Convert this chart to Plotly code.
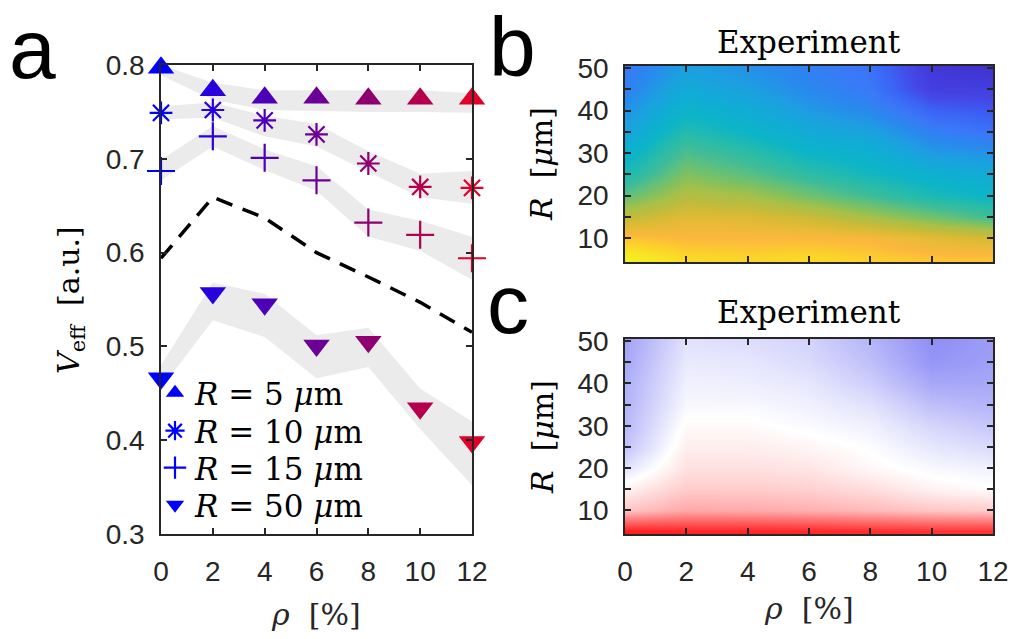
import plotly.graph_objects as go

W, H = 1017, 639

# ---------------- data ----------------
rho = [0, 2, 4, 6, 8, 10, 12]
names = ["<i>R</i> = 5 <i>μ</i>m", "<i>R</i> = 10 <i>μ</i>m",
         "<i>R</i> = 15 <i>μ</i>m", "<i>R</i> = 50 <i>μ</i>m"]

v_r5 = [0.797, 0.773, 0.765, 0.765, 0.764, 0.764, 0.764]
v_r10 = [0.749, 0.752, 0.741, 0.726, 0.695, 0.670, 0.669]
v_r15 = [0.687, 0.724, 0.701, 0.677, 0.632, 0.619, 0.594]
v_r50 = [0.466, 0.557, 0.545, 0.501, 0.505, 0.434, 0.398]

r5_hi = [0.800, 0.781, 0.773, 0.773, 0.773, 0.773, 0.770]
r5_lo = [0.789, 0.763, 0.752, 0.751, 0.750, 0.750, 0.749]
r10_hi = [0.756, 0.760, 0.746, 0.737, 0.708, 0.684, 0.687]
r10_lo = [0.742, 0.744, 0.724, 0.713, 0.686, 0.659, 0.652]
r15_hi = [0.699, 0.735, 0.710, 0.692, 0.646, 0.634, 0.617]
r15_lo = [0.677, 0.713, 0.688, 0.666, 0.617, 0.602, 0.571]
r50_hi = [0.480, 0.568, 0.556, 0.512, 0.520, 0.455, 0.420]
r50_lo = [0.455, 0.528, 0.510, 0.466, 0.478, 0.412, 0.352]

v_dashed = [0.594, 0.659, 0.637, 0.600, 0.574, 0.547, 0.515]

point_colors = ["rgb(0,0,255)", "rgb(40,0,222)", "rgb(78,0,184)", "rgb(108,0,150)",
                "rgb(142,0,112)", "rgb(180,0,76)", "rgb(224,0,40)"]

# heatmap grids (rows: R from 5 to 50, columns: rho)
R_grid = [5, 10, 15, 20, 25, 30, 35, 40, 45, 50]
z_b = [
    [1.00, 0.94, 0.93, 0.94, 0.92, 0.90, 0.90],
    [0.90, 0.88, 0.88, 0.88, 0.87, 0.82, 0.78],
    [0.74, 0.81, 0.80, 0.76, 0.68, 0.60, 0.52],
    [0.57, 0.71, 0.68, 0.60, 0.52, 0.44, 0.40],
    [0.44, 0.62, 0.56, 0.48, 0.42, 0.37, 0.34],
    [0.37, 0.54, 0.48, 0.40, 0.37, 0.29, 0.27],
    [0.31, 0.46, 0.40, 0.34, 0.31, 0.23, 0.20],
    [0.27, 0.39, 0.35, 0.29, 0.25, 0.17, 0.15],
    [0.23, 0.34, 0.30, 0.25, 0.21, 0.10, 0.10],
    [0.21, 0.30, 0.27, 0.23, 0.20, 0.08, 0.06],
]
z_c = [
    [0.88, 0.85, 0.85, 0.84, 0.82, 0.80, 0.80],
    [0.22, 0.34, 0.33, 0.31, 0.27, 0.22, 0.20],
    [0.05, 0.20, 0.20, 0.18, 0.13, 0.05, 0.01],
    [-0.12, 0.12, 0.12, 0.10, 0.03, -0.03, -0.06],
    [-0.25, 0.07, 0.07, 0.04, -0.01, -0.10, -0.15],
    [-0.29, 0.02, 0.02, -0.02, -0.06, -0.17, -0.23],
    [-0.31, -0.03, -0.03, -0.06, -0.12, -0.26, -0.31],
    [-0.33, -0.06, -0.07, -0.10, -0.20, -0.36, -0.36],
    [-0.36, -0.09, -0.10, -0.15, -0.26, -0.43, -0.39],
    [-0.38, -0.12, -0.14, -0.18, -0.30, -0.46, -0.40],
]

yticks_a = [0.3, 0.4, 0.5, 0.6, 0.7, 0.8]
yticks_a_text = ["0.3", "0.4", "0.5", "0.6", "0.7", "0.8"]
xticks = [0, 2, 4, 6, 8, 10, 12]
yticks_r = [10, 20, 30, 40, 50]
yminor_r = [15, 25, 35, 45]

parula_like = [
    [0.00, "#3e26a8"], [0.08, "#4238d8"], [0.12, "#4545e5"], [0.17, "#3a65f5"],
    [0.21, "#3a78f8"], [0.25, "#2a88ee"], [0.30, "#1ca0e0"], [0.35, "#10acd4"],
    [0.40, "#0cb4c8"], [0.47, "#28bca8"], [0.52, "#40bc98"], [0.57, "#60c07c"],
    [0.62, "#80c060"], [0.68, "#a8c048"], [0.72, "#b8bc40"], [0.78, "#d4ba34"],
    [0.84, "#ecba38"], [0.88, "#fcb83c"], [0.92, "#fcd02c"], [0.96, "#f8e424"],
    [1.00, "#f4f01e"],
]
bwr = [[0.0, "rgb(10,10,235)"], [0.5, "rgb(255,255,255)"], [1.0, "rgb(255,0,0)"]]

# ---------------- figure ----------------
fig = go.Figure()
band_color = "#ebebeb"

for hi, lo in [(r5_hi, r5_lo), (r10_hi, r10_lo), (r15_hi, r15_lo), (r50_hi, r50_lo)]:
    fig.add_trace(go.Scatter(
        x=rho + rho[::-1], y=hi + lo[::-1], fill="toself", fillcolor=band_color,
        mode="lines", line=dict(width=0, color=band_color), showlegend=False,
        hoverinfo="skip", xaxis="x", yaxis="y"))

fig.add_trace(go.Scatter(
    x=rho, y=v_dashed, mode="lines", line=dict(color="black", width=3.5, dash="17px,11px"),
    showlegend=False, xaxis="x", yaxis="y"))

series = [
    (v_r5, "triangle-up", 23, None),
    (v_r10, "asterisk-open", 19, 2.2),
    (v_r15, "cross-thin-open", 20, 2.2),
    (v_r50, "triangle-down", 23, None),
]
legend_ids = ["legend", "legend2", "legend3", "legend4"]
for (vals, sym, sz, lw), nm, lg in zip(series, names, legend_ids):
    if lw is None:
        marker = dict(symbol=sym, size=sz, color=point_colors, line=dict(width=0))
    else:
        marker = dict(symbol=sym, size=sz, color=point_colors,
                      line=dict(width=lw, color=point_colors))
    fig.add_trace(go.Scatter(x=rho, y=vals, mode="markers", marker=marker, name=nm,
                             legend=lg, cliponaxis=False, xaxis="x", yaxis="y"))

fig.add_trace(go.Heatmap(x=rho, y=R_grid, z=z_b, colorscale=parula_like, zmin=0, zmax=1,
                         zsmooth="best", showscale=False, xaxis="x2", yaxis="y2"))
fig.add_trace(go.Heatmap(x=rho, y=R_grid, z=z_c, colorscale=bwr, zmin=-1, zmax=1,
                         zsmooth="best", showscale=False, xaxis="x3", yaxis="y3"))

def px_x(p):
    return p / W

def px_y(p):
    return 1 - p / H

axcol = "#262626"
tickfont = dict(family="Liberation Sans, Arial, sans-serif", size=28, color=axcol)
common = dict(showline=True, linecolor=axcol, linewidth=1.5, mirror="ticks", ticks="inside",
              ticklen=6, tickwidth=1.5, tickcolor=axcol, showgrid=False, zeroline=False,
              tickfont=tickfont, automargin=False)
minor = dict(tickvals=yminor_r, ticks="inside", ticklen=6, tickwidth=1.5, tickcolor=axcol,
             showgrid=False)

legend_font = dict(family="DejaVu Serif, serif", size=31, color="black")
legend_y = [393, 431, 468, 505]
legends = {}
for lg, yy in zip(legend_ids, legend_y):
    legends[lg] = dict(x=px_x(155), y=px_y(yy), xanchor="left", yanchor="middle",
                       bgcolor="rgba(0,0,0,0)", borderwidth=0, font=legend_font)

fig.update_layout(
    width=W, height=H, margin=dict(l=0, r=0, t=0, b=0, autoexpand=False),
    paper_bgcolor="white", plot_bgcolor="white",
    showlegend=True,
    xaxis=dict(domain=[px_x(161), px_x(472)], range=[0, 12], tickvals=xticks,
               ticklabelstandoff=12, anchor="y", **common),
    yaxis=dict(domain=[px_y(534), px_y(65)], range=[0.3, 0.8], tickvals=yticks_a,
               ticktext=yticks_a_text, ticklabelstandoff=9, anchor="x", **common),
    xaxis2=dict(domain=[px_x(625), px_x(993)], range=[0, 12], tickvals=xticks,
                showticklabels=False, anchor="y2", **common),
    yaxis2=dict(domain=[px_y(262), px_y(66)], range=[4.4, 50.5], tickvals=yticks_r,
                ticklabelstandoff=9, anchor="x2", minor=minor, **common),
    xaxis3=dict(domain=[px_x(625), px_x(993)], range=[0, 12], tickvals=xticks,
                ticklabelstandoff=12, anchor="y3", **common),
    yaxis3=dict(domain=[px_y(534), px_y(339)], range=[4.4, 50.5], tickvals=yticks_r,
                ticklabelstandoff=9, anchor="x3", minor=minor, **common),
    **legends,
)

serif = "DejaVu Serif, serif"
ann = []
def add_text(text, x, y, size, family, angle=0, color="black"):
    ann.append(dict(text=text, x=px_x(x), y=px_y(y), xref="paper", yref="paper",
                    xanchor="center", yanchor="middle", showarrow=False, textangle=angle,
                    font=dict(family=family, size=size, color=color)))

add_text("<i>V</i><sub>eff</sub>  [a.u.]", 70, 300, 30, serif, -90)
add_text("<i>ρ</i>  [%]", 316, 614, 30, serif, 0, axcol)
add_text("<i>R</i>  [<i>μ</i>m]", 542, 164, 30, serif, -90)
add_text("<i>R</i>  [<i>μ</i>m]", 542, 437, 30, serif, -90)
add_text("<i>ρ</i>  [%]", 809, 608, 30, serif, 0, axcol)
add_text("Experiment", 809, 42, 31, serif)
add_text("Experiment", 809, 312, 31, serif)
add_text("a", 32, 49, 84, "Liberation Sans, Arial, sans-serif")
add_text("b", 512, 47, 84, "Liberation Sans, Arial, sans-serif")
add_text("c", 508, 304, 84, "Liberation Sans, Arial, sans-serif")
fig.update_layout(annotations=ann)

fig.write_html("out.html")
